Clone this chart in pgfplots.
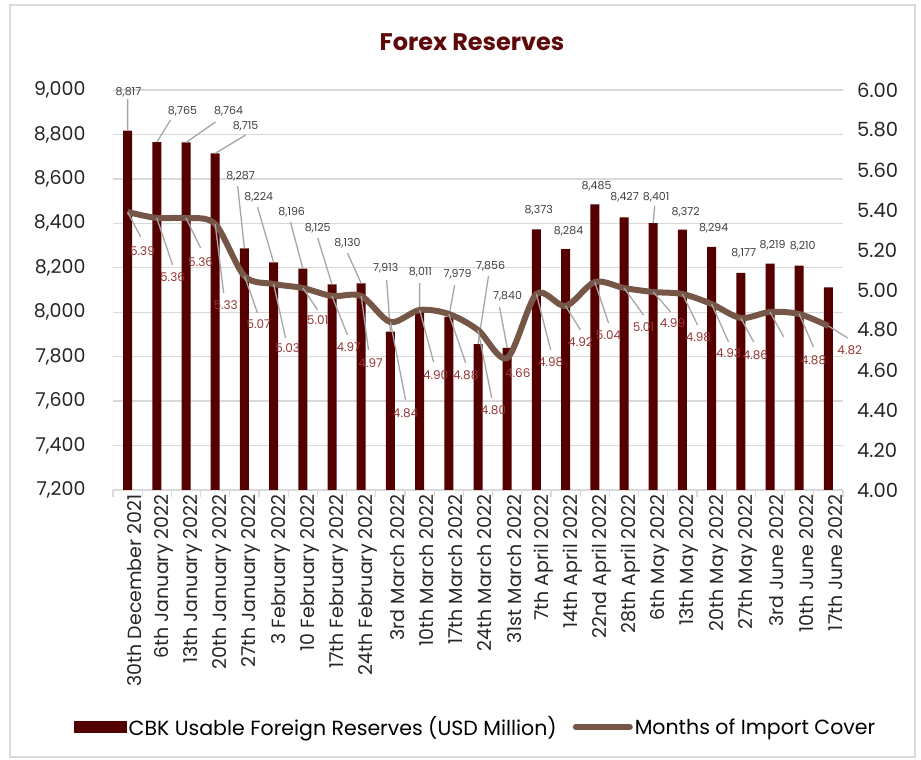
\documentclass[border=0pt]{standalone}
\usepackage{pgfplots}
\pgfplotsset{compat=1.18}
\usepackage{pgfplotstable}
\usepackage{fontspec}
\setmainfont{Poppins}
\definecolor{barcol}{RGB}{85,0,0}
\definecolor{linecol}{RGB}{117,86,71}
\definecolor{lblred}{RGB}{148,54,52}
\definecolor{lblgray}{RGB}{64,64,64}
\definecolor{leadgray}{RGB}{166,166,166}
\definecolor{gridgray}{RGB}{217,217,217}
\definecolor{titlecol}{RGB}{95,10,10}

\pgfplotstableread{
x v
0 8817
1 8765
2 8764
3 8715
4 8287
5 8224
6 8196
7 8125
8 8130
9 7913
10 8011
11 7979
12 7856
13 7840
14 8373
15 8284
16 8485
17 8427
18 8401
19 8372
20 8294
21 8177
22 8219
23 8210
24 8112
}\bars

\pgfplotstableread{
x m
0 5.39
1 5.36
2 5.36
3 5.33
4 5.07
5 5.03
6 5.01
7 4.97
8 4.97
9 4.84
10 4.90
11 4.88
12 4.80
13 4.66
14 4.98
15 4.92
16 5.04
17 5.01
18 4.99
19 4.98
20 4.93
21 4.86
22 4.89
23 4.88
24 4.82
}\months

\pgfplotstableread{
lx ly lab
0.03 8991 8,817
1.88 8905 8,765
3.46 8905 8,764
4.04 8838 8,715
3.87 8613 8,287
4.49 8518 8,224
5.62 8451 8,196
6.51 8379 8,125
7.53 8311 8,130
8.84 8199 7,913
10.03 8181 8,011
11.30 8172 7,979
12.43 8208 7,856
13.01 8073 7,840
14.08 8460 8,373
15.10 8365 8,284
16.06 8568 8,485
17.02 8518 8,427
18.10 8518 8,401
19.11 8451 8,372
20.07 8379 8,294
21.10 8266 8,177
22.09 8302 8,219
23.12 8298 8,210
}\barlabels

\pgfplotstableread{
x y
0 8817
0.0 8960
nan nan
1 8765
1.47 8865
nan nan
2 8764
3.01 8856
nan nan
3 8715
4.04 8797
nan nan
4 8287
3.77 8568
nan nan
5 8224
4.45 8473
nan nan
6 8196
5.58 8406
nan nan
7 8125
6.51 8334
nan nan
8 8130
7.53 8266
nan nan
9 7913
8.87 8145
nan nan
10 8011
10.0 8131
nan nan
11 7979
11.2 8122
nan nan
12 7856
12.36 8163
nan nan
13 7840
12.74 8023
nan nan
18 8401
18.05 8480
}\barleads

\pgfplotstableread{
lx ly lab
0.51 5.195 5.39
1.54 5.065 5.36
2.50 5.14 5.36
3.36 4.925 5.33
4.49 4.83 5.07
5.48 4.71 5.03
6.51 4.85 5.01
7.57 4.715 4.97
8.32 4.635 4.97
9.52 4.385 4.84
10.55 4.575 4.90
11.58 4.575 4.88
12.53 4.40 4.80
13.36 4.585 4.66
14.49 4.64 4.98
15.51 4.74 4.92
16.47 4.775 5.04
17.67 4.815 5.01
18.66 4.835 4.99
19.55 4.765 4.98
20.58 4.685 4.93
21.50 4.675 4.86
23.49 4.65 4.88
24.73 4.70 4.82
}\linelabels

\pgfplotstableread{
x y
0 5.39
0.45 5.265
nan nan
1 5.36
1.54 5.125
nan nan
2 5.36
2.5 5.21
nan nan
3 5.33
3.29 4.985
nan nan
4 5.07
4.45 4.885
nan nan
5 5.03
5.41 4.76
nan nan
6 5.01
6.51 4.90
nan nan
7 4.97
7.53 4.775
nan nan
8 4.97
8.25 4.70
nan nan
9 4.84
9.52 4.45
nan nan
10 4.90
10.48 4.64
nan nan
11 4.88
11.58 4.635
nan nan
12 4.80
12.47 4.46
nan nan
14 4.98
14.49 4.70
nan nan
15 4.92
15.51 4.80
nan nan
16 5.04
16.47 4.835
nan nan
17 5.01
17.67 4.875
nan nan
18 4.99
18.6 4.89
nan nan
19 4.98
19.52 4.825
nan nan
20 4.93
20.58 4.74
nan nan
21 4.86
21.44 4.74
nan nan
22 4.89
22.47 4.765
nan nan
23 4.88
23.49 4.715
nan nan
24 4.82
24.66 4.76
}\lineleads

\begin{document}
\begin{tikzpicture}[x=1pt,y=1pt]
\useasboundingbox (0,0) rectangle (921,760);
\draw[gridgray, line width=1.5pt] (10,3) rectangle (915,755);
\node[font=\fontsize{24}{28}\selectfont\bfseries, text=titlecol] at (472,718) {Forex Reserves};

\begin{axis}[
  at={(113pt,270pt)}, anchor=south west,
  scale only axis, width=730pt, height=400pt,
  xmin=-0.5, xmax=24.5, ymin=7200, ymax=9000,
  ytick distance=200,
  axis lines*=left,
  x axis line style={-, draw=gridgray, line width=1.3pt},
  y axis line style={-, draw=none},
  ymajorgrids, grid style={gridgray, line width=1.3pt},
  ytick style={draw=none},
  xtick={0,...,24},
  major x tick style={draw=none},
  minor xtick={-0.5,0.5,...,24.5},
  minor x tick style={gridgray, line width=1.3pt},
  minor tick length=7pt,
  tick align=outside,
  xticklabels={30th December 2021,6th January 2022,13th January 2022,20th January 2022,27th January 2022,3 February 2022,10 February 2022,17th February 2022,24th February 2022,3rd March 2022,10th March 2022,17th March 2022,24th March 2022,31st March 2022,7th April 2022,14th April 2022,22nd April 2022,28th April 2022,6th May 2022,13th May 2022,20th May 2022,27th May 2022,3rd June 2022,10th June 2022,17th June 2022},
  xticklabel style={rotate=90, anchor=east, inner sep=0pt, yshift=-7pt, font=\fontsize{19}{21}\selectfont, text=black!85},
  yticklabel style={anchor=east, inner sep=0pt, xshift=-23pt, font=\fontsize{19}{22}\selectfont, text=black!85},
  /pgf/number format/assume math mode=true,
  /pgf/number format/.cd, 1000 sep={,},
  /pgfplots/.cd,
  clip=false,
]
\addplot[ybar, bar width=9pt, fill=barcol, draw=none] table[x=x,y=v] {\bars};
\addplot[leadgray, line width=1.3pt, unbounded coords=jump] table[x=x,y=y] {\barleads};
\addplot[draw=none, nodes near coords, point meta=explicit symbolic,
  nodes near coords style={anchor=center, inner sep=1pt, font=\fontsize{11}{13}\selectfont, text=lblgray}]
  table[x=lx,y=ly,meta=lab] {\barlabels};
\end{axis}

\begin{axis}[
  at={(113pt,270pt)}, anchor=south west,
  scale only axis, width=730pt, height=400pt,
  xmin=-0.5, xmax=24.5, ymin=4, ymax=6,
  ytick distance=0.2,
  axis x line=none,
  axis y line*=right,
  y axis line style={-, draw=none},
  ytick style={draw=none},
  yticklabel style={anchor=west, inner sep=0pt, xshift=14pt, font=\fontsize{19.5}{22}\selectfont, text=black!85,
    /pgf/number format/.cd, fixed, fixed zerofill, precision=2},
  /pgf/number format/assume math mode=true,
  clip=false,
  legend style={at={(0.497,-0.5925)}, anchor=center, draw=none, fill=none,
    legend columns=2, font=\fontsize{20.5}{24}\selectfont,
    /tikz/every even column/.append style={column sep=14pt}},
]
\addlegendimage{legend image code/.code={\fill[barcol] (0pt,-5.5pt) rectangle (52pt,5.5pt);}}
\addlegendentry{CBK Usable Foreign Reserves (USD Million)}
\addlegendimage{legend image code/.code={\draw[linecol, line width=6pt, line cap=round] (3pt,0pt) -- (57pt,0pt);}}
\addlegendentry{Months of Import Cover}
\addplot[linecol, line width=6pt, smooth, tension=0.5, forget plot] table[x=x,y=m] {\months};
\addplot[leadgray, line width=1.3pt, unbounded coords=jump, forget plot] table[x=x,y=y] {\lineleads};
\addplot[draw=none, forget plot, nodes near coords, point meta=explicit symbolic,
  nodes near coords style={anchor=center, inner sep=1pt, font=\fontsize{12}{14}\selectfont, text=lblred}]
  table[x=lx,y=ly,meta=lab] {\linelabels};
\end{axis}
\end{tikzpicture}
\end{document}
